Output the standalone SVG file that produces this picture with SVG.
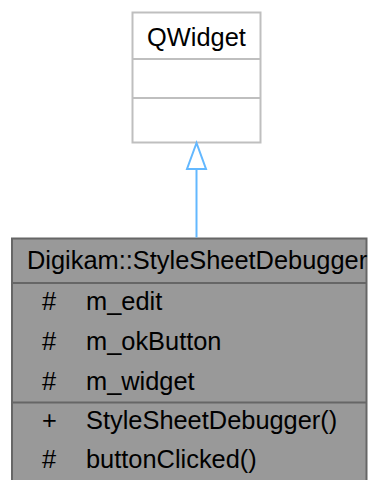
<svg xmlns="http://www.w3.org/2000/svg" width="370" height="480" viewBox="0 0 370 480">
<style>
text { font-family: "Liberation Sans", Arial, sans-serif; font-size: 25.4px; fill: #000; }
.box1 { fill: #fff; stroke: #bfbfbf; stroke-width: 2; }
.line1 { stroke: #bfbfbf; stroke-width: 2; }
.box2 { fill: #999999; stroke: #666666; stroke-width: 2; }
.line2 { stroke: #666666; stroke-width: 2; }
.edge { fill: none; stroke: #63b8ff; stroke-width: 2; }
.head { fill: #fff; stroke: #63b8ff; stroke-width: 2; }
</style>
<g id="node-qwidget">
<rect class="box1" x="132.5" y="12.5" width="128" height="130"/>
<line class="line1" x1="132.5" y1="59" x2="260.5" y2="59"/>
<line class="line1" x1="132.5" y1="98" x2="260.5" y2="98"/>
<text x="196.5" y="46" text-anchor="middle">QWidget</text>
</g>
<g id="node-stylesheetdebugger">
<rect class="box2" x="12" y="238.5" width="354.5" height="250"/>
<line class="line2" x1="12" y1="283" x2="366.5" y2="283"/>
<line class="line2" x1="12" y1="402.5" x2="366.5" y2="402.5"/>
<text x="27" y="269">Digikam::StyleSheetDebugger</text>
<text x="42" y="310">#</text><text x="86" y="310">m_edit</text>
<text x="42" y="350">#</text><text x="86" y="350">m_okButton</text>
<text x="42" y="390">#</text><text x="86" y="390">m_widget</text>
<text x="42" y="429">+</text><text x="86" y="429">StyleSheetDebugger()</text>
<text x="42" y="468">#</text><text x="86" y="468">buttonClicked()</text>
</g>
<g id="connectors">
<line class="edge" x1="196.5" y1="237.5" x2="196.5" y2="169"/>
<polygon class="head" points="196.5,143 187,169 206,169"/>
</g>
</svg>
